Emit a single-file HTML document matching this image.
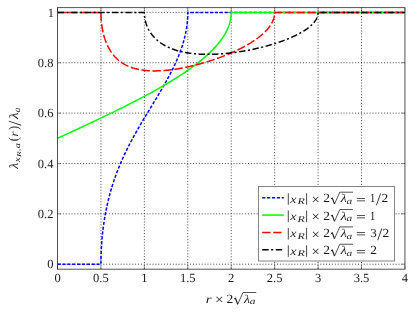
<!DOCTYPE html>
<html><head><meta charset="utf-8"><title>plot</title>
<style>html,body{margin:0;padding:0;background:#fff;}body{width:416px;height:313px;position:relative;overflow:hidden;font-family:"Liberation Serif",serif;}</style>
</head><body>
<svg width="416" height="313" viewBox="0 0 416 313" style="position:absolute;left:0;top:0;will-change:transform" text-rendering="geometricPrecision">
<defs><clipPath id="c"><rect x="57.50" y="7.70" width="347.45" height="261.45"/></clipPath></defs>
<path d="M100.93 269.15 V7.70 M144.36 269.15 V7.70 M187.79 269.15 V7.70 M231.22 269.15 V7.70 M274.66 269.15 V7.70 M318.09 269.15 V7.70 M361.52 269.15 V7.70" fill="none" stroke="#000" stroke-width="0.72" stroke-dasharray="1 1.894" stroke-dashoffset="2.544"/>
<path d="M57.50 264.20 H404.95 M57.50 213.84 H404.95 M57.50 163.48 H404.95 M57.50 113.12 H404.95 M57.50 62.76 H404.95 M57.50 12.40 H404.95" fill="none" stroke="#000" stroke-width="0.72" stroke-dasharray="1 1.894" stroke-dashoffset="0.5"/>
<path d="M57.50 269.15 v-3.5 M57.50 7.70 v3.5 M100.93 269.15 v-3.5 M100.93 7.70 v3.5 M144.36 269.15 v-3.5 M144.36 7.70 v3.5 M187.79 269.15 v-3.5 M187.79 7.70 v3.5 M231.22 269.15 v-3.5 M231.22 7.70 v3.5 M274.66 269.15 v-3.5 M274.66 7.70 v3.5 M318.09 269.15 v-3.5 M318.09 7.70 v3.5 M361.52 269.15 v-3.5 M361.52 7.70 v3.5 M404.95 269.15 v-3.5 M404.95 7.70 v3.5 M57.50 264.20 h3.5 M404.95 264.20 h-3.5 M57.50 213.84 h3.5 M404.95 213.84 h-3.5 M57.50 163.48 h3.5 M404.95 163.48 h-3.5 M57.50 113.12 h3.5 M404.95 113.12 h-3.5 M57.50 62.76 h3.5 M404.95 62.76 h-3.5 M57.50 12.40 h3.5 M404.95 12.40 h-3.5" fill="none" stroke="#333" stroke-width="0.55"/>
<g clip-path="url(#c)" fill="none" stroke-width="1.50" stroke-linejoin="round">
<path d="M57.50 264.20 L63.58 264.20 L69.66 264.20 L75.74 264.20 L81.82 264.20 L87.90 264.20 L93.98 264.20 L100.06 264.20 L100.93 264.20 L100.94 262.46 L100.95 261.26 L100.96 260.38 L100.97 259.24 L100.99 258.54 L101.00 257.75 L101.02 256.85 L101.05 255.82 L101.09 254.65 L101.13 253.31 L101.15 252.88 L101.19 251.79 L101.27 250.05 L101.37 248.08 L101.50 245.83 L101.58 244.63 L101.68 243.27 L101.80 241.62 L101.90 240.36 L102.02 238.98 L102.19 237.06 L102.23 236.60 L102.45 234.42 L102.57 233.30 L102.67 232.40 L102.89 230.50 L103.06 229.05 L103.10 228.71 L103.32 227.02 L103.54 225.40 L103.70 224.23 L103.75 223.85 L103.97 222.37 L104.19 220.94 L104.41 219.56 L104.53 218.79 L104.62 218.23 L104.84 216.94 L105.06 215.69 L105.27 214.47 L105.49 213.29 L105.71 212.14 L105.93 211.01 L106.14 209.92 L106.36 208.84 L106.58 207.80 L106.79 206.77 L107.01 205.75 L107.23 204.78 L107.45 203.81 L107.66 202.86 L107.88 201.93 L108.10 201.02 L108.31 200.12 L108.53 199.23 L108.84 198.01 L108.97 197.51 L109.18 196.66 L109.40 195.83 L109.62 195.01 L109.83 194.21 L110.05 193.41 L110.27 192.62 L110.49 191.85 L110.70 191.08 L110.92 190.33 L111.21 189.33 L111.35 188.85 L111.57 188.12 L111.79 187.40 L112.01 186.69 L112.22 185.99 L112.44 185.29 L112.66 184.60 L112.87 183.92 L113.09 183.25 L113.31 182.58 L113.53 181.92 L113.74 181.27 L113.96 180.62 L114.39 179.35 L114.61 178.72 L114.83 178.10 L115.05 177.48 L115.26 176.87 L115.48 176.26 L115.70 175.66 L115.92 175.06 L116.13 174.47 L116.35 173.88 L116.78 172.72 L117.22 171.58 L117.65 170.46 L118.09 169.35 L118.52 168.26 L118.96 167.18 L119.39 166.12 L119.82 165.07 L120.26 164.03 L120.69 163.01 L121.13 162.00 L121.56 161.00 L122.00 160.01 L122.43 159.04 L122.86 158.07 L123.30 157.12 L123.73 156.17 L124.17 155.23 L124.60 154.31 L125.04 153.39 L125.47 152.48 L125.90 151.58 L126.34 150.68 L126.77 149.80 L127.21 148.92 L127.64 148.05 L128.08 147.18 L128.51 146.32 L128.94 145.47 L129.60 144.21 L130.25 142.95 L130.90 141.71 L131.55 140.49 L132.20 139.27 L132.85 138.06 L133.50 136.87 L134.16 135.68 L134.81 134.51 L135.46 133.34 L136.11 132.18 L136.76 131.03 L137.41 129.89 L138.28 128.37 L139.15 126.87 L140.02 125.38 L140.89 123.90 L141.76 122.42 L142.63 120.96 L143.71 119.14 L144.80 117.32 L146.10 115.16 L147.62 112.65 L149.57 109.43 L152.83 104.08 L154.57 101.22 L155.87 99.06 L156.96 97.26 L158.04 95.45 L159.13 93.62 L160.00 92.16 L160.87 90.68 L161.74 89.20 L162.60 87.70 L163.26 86.57 L163.91 85.44 L164.56 84.29 L165.21 83.14 L165.86 81.98 L166.51 80.80 L167.16 79.62 L167.82 78.43 L168.47 77.22 L169.12 76.00 L169.55 75.18 L169.99 74.35 L170.42 73.52 L170.86 72.68 L171.29 71.83 L171.72 70.97 L172.16 70.11 L172.59 69.23 L173.03 68.35 L173.46 67.46 L173.90 66.55 L174.43 65.43 L174.76 64.71 L175.20 63.78 L175.63 62.83 L176.07 61.86 L176.50 60.88 L176.94 59.89 L177.37 58.88 L177.80 57.85 L178.02 57.33 L178.24 56.80 L178.46 56.27 L178.67 55.73 L178.89 55.19 L179.11 54.64 L179.32 54.09 L179.54 53.53 L179.98 52.39 L180.19 51.81 L180.41 51.22 L180.63 50.63 L180.84 50.02 L181.06 49.41 L181.28 48.79 L181.50 48.16 L181.71 47.52 L181.93 46.87 L182.15 46.21 L182.36 45.53 L182.58 44.85 L182.80 44.15 L183.02 43.43 L183.23 42.71 L183.45 41.96 L183.67 41.20 L183.88 40.41 L184.10 39.61 L184.32 38.79 L184.54 37.93 L184.75 37.06 L184.97 36.15 L185.19 35.20 L185.41 34.22 L185.62 33.20 L185.84 32.12 L186.06 30.98 L186.16 30.44 L186.27 29.77 L186.49 28.48 L186.53 28.21 L186.71 27.07 L186.82 26.26 L186.93 25.51 L187.05 24.55 L187.14 23.75 L187.22 23.05 L187.36 21.66 L187.45 20.59 L187.53 19.58 L187.59 18.70 L187.64 17.92 L187.67 17.24 L187.70 16.65 L187.72 16.12 L187.75 15.26 L187.77 14.33 L187.80 12.40 L193.87 12.40 L199.95 12.40 L206.03 12.40 L212.12 12.40 L218.20 12.40 L224.28 12.40 L230.36 12.40 L236.44 12.40 L242.52 12.40 L248.60 12.40 L254.68 12.40 L260.76 12.40 L266.84 12.40 L272.92 12.40 L279.00 12.40 L285.08 12.40 L291.16 12.40 L297.24 12.40 L303.32 12.40 L309.40 12.40 L315.48 12.40 L321.56 12.40 L327.64 12.40 L333.72 12.40 L339.80 12.40 L345.88 12.40 L351.96 12.40 L358.04 12.40 L364.12 12.40 L370.20 12.40 L376.29 12.40 L382.37 12.40 L388.45 12.40 L394.53 12.40 L400.61 12.40 L404.95 12.40" stroke="#0000ff" stroke-dasharray="3.2 1.67"/>
<path d="M57.50 138.30 L63.15 135.69 L68.79 133.09 L74.44 130.47 L79.87 127.95 L84.64 125.72 L88.99 123.69 L93.11 121.75 L97.02 119.90 L100.71 118.15 L104.19 116.49 L107.45 114.93 L110.70 113.35 L113.74 111.88 L116.78 110.39 L119.61 109.00 L122.43 107.60 L125.04 106.30 L127.64 104.99 L130.25 103.67 L132.64 102.45 L135.02 101.22 L137.41 99.99 L139.59 98.86 L141.76 97.71 L143.93 96.56 L146.10 95.40 L148.05 94.35 L150.01 93.29 L151.96 92.22 L153.92 91.14 L155.87 90.05 L157.61 89.08 L159.35 88.09 L161.08 87.10 L162.82 86.10 L164.56 85.08 L166.30 84.06 L167.82 83.16 L169.34 82.24 L170.86 81.32 L172.38 80.39 L173.90 79.45 L175.42 78.50 L176.72 77.68 L178.02 76.85 L179.32 76.01 L180.63 75.16 L181.93 74.31 L183.23 73.44 L184.54 72.56 L185.84 71.68 L186.93 70.93 L188.01 70.18 L189.10 69.41 L190.18 68.64 L191.27 67.86 L192.35 67.07 L193.44 66.27 L194.53 65.46 L195.61 64.64 L196.70 63.81 L197.57 63.14 L198.43 62.45 L199.30 61.77 L200.17 61.07 L201.04 60.36 L201.91 59.64 L202.78 58.92 L203.65 58.18 L204.51 57.44 L205.38 56.68 L206.25 55.91 L206.90 55.32 L207.55 54.73 L208.21 54.13 L208.86 53.52 L209.51 52.90 L210.16 52.28 L210.81 51.65 L211.46 51.00 L212.12 50.35 L212.77 49.68 L213.42 49.01 L214.07 48.32 L214.72 47.62 L215.37 46.91 L215.81 46.42 L216.24 45.93 L216.68 45.44 L217.11 44.93 L217.54 44.42 L217.98 43.90 L218.41 43.37 L218.85 42.84 L219.28 42.29 L219.72 41.74 L220.15 41.17 L220.58 40.60 L221.02 40.01 L221.45 39.41 L221.89 38.80 L222.32 38.17 L222.76 37.53 L223.19 36.87 L223.62 36.20 L223.84 35.85 L224.06 35.50 L224.28 35.15 L224.49 34.79 L224.71 34.42 L224.93 34.05 L225.14 33.67 L225.36 33.28 L225.58 32.89 L225.80 32.49 L226.01 32.08 L226.23 31.67 L226.55 31.04 L226.88 30.36 L227.10 29.90 L227.32 29.43 L227.63 28.74 L227.75 28.46 L227.97 27.95 L228.18 27.42 L228.46 26.73 L228.62 26.30 L228.84 25.71 L229.10 24.96 L229.27 24.43 L229.49 23.74 L229.59 23.42 L229.70 23.01 L229.92 22.22 L229.96 22.06 L230.14 21.37 L230.26 20.87 L230.36 20.42 L230.48 19.83 L230.57 19.34 L230.65 18.91 L230.79 18.07 L230.89 17.41 L230.96 16.79 L231.02 16.25 L231.07 15.78 L231.11 15.36 L231.13 15.00 L231.17 14.40 L231.20 13.75 L231.23 12.40 L237.31 12.40 L243.39 12.40 L249.47 12.40 L255.55 12.40 L261.63 12.40 L267.71 12.40 L273.79 12.40 L279.87 12.40 L285.95 12.40 L292.03 12.40 L298.11 12.40 L304.19 12.40 L310.27 12.40 L316.35 12.40 L322.43 12.40 L328.51 12.40 L334.59 12.40 L340.67 12.40 L346.75 12.40 L352.83 12.40 L358.91 12.40 L364.99 12.40 L371.07 12.40 L377.15 12.40 L383.23 12.40 L389.31 12.40 L395.40 12.40 L401.48 12.40 L404.95 12.40" stroke="#00ff00"/>
<path d="M57.50 12.40 L63.58 12.40 L69.66 12.40 L75.74 12.40 L81.82 12.40 L87.90 12.40 L93.98 12.40 L100.06 12.40 L100.93 12.40 L100.94 13.54 L100.95 14.33 L100.97 15.26 L101.00 16.12 L101.02 16.64 L101.05 17.23 L101.09 17.91 L101.13 18.68 L101.19 19.55 L101.27 20.55 L101.37 21.67 L101.50 22.96 L101.58 23.64 L101.68 24.41 L101.80 25.34 L101.90 26.05 L102.02 26.83 L102.19 27.91 L102.23 28.16 L102.45 29.38 L102.57 30.00 L102.67 30.50 L102.89 31.54 L103.10 32.52 L103.32 33.45 L103.54 34.32 L103.75 35.15 L103.97 35.95 L104.19 36.71 L104.41 37.44 L104.62 38.14 L104.84 38.81 L105.06 39.46 L105.27 40.09 L105.49 40.70 L105.71 41.29 L105.93 41.86 L106.14 42.41 L106.36 42.95 L106.58 43.47 L106.79 43.98 L107.01 44.48 L107.23 44.96 L107.45 45.43 L107.66 45.88 L107.88 46.33 L108.10 46.77 L108.31 47.19 L108.53 47.61 L108.84 48.18 L109.18 48.80 L109.40 49.19 L109.62 49.56 L109.83 49.92 L110.05 50.28 L110.27 50.63 L110.49 50.98 L110.70 51.31 L110.92 51.64 L111.21 52.08 L111.57 52.60 L111.79 52.90 L112.01 53.21 L112.22 53.50 L112.44 53.79 L112.66 54.08 L112.87 54.36 L113.09 54.63 L113.31 54.90 L113.74 55.43 L114.18 55.94 L114.61 56.43 L115.05 56.90 L115.48 57.36 L115.92 57.81 L116.35 58.24 L116.78 58.66 L117.22 59.07 L117.65 59.46 L118.09 59.84 L118.52 60.21 L118.96 60.57 L119.39 60.92 L119.82 61.26 L120.26 61.59 L120.69 61.91 L121.13 62.22 L121.56 62.52 L122.00 62.81 L122.43 63.09 L122.86 63.37 L123.30 63.63 L123.73 63.89 L124.17 64.15 L124.60 64.39 L125.04 64.63 L125.47 64.86 L125.90 65.09 L126.34 65.31 L126.99 65.62 L127.64 65.93 L128.29 66.22 L128.94 66.50 L129.60 66.76 L130.25 67.02 L130.90 67.26 L131.55 67.49 L132.20 67.71 L132.85 67.93 L133.50 68.13 L134.16 68.32 L134.81 68.51 L135.46 68.68 L136.11 68.85 L136.76 69.01 L137.41 69.16 L138.06 69.30 L138.72 69.44 L139.37 69.57 L140.02 69.69 L140.89 69.84 L141.76 69.98 L142.63 70.10 L143.49 70.22 L144.36 70.33 L145.23 70.42 L146.10 70.51 L146.97 70.59 L147.84 70.65 L148.71 70.71 L149.57 70.76 L150.44 70.80 L151.31 70.83 L152.18 70.86 L153.05 70.88 L153.92 70.89 L155.00 70.89 L156.09 70.88 L157.17 70.86 L158.26 70.83 L159.35 70.79 L160.43 70.74 L161.52 70.68 L162.60 70.61 L163.69 70.53 L164.78 70.44 L165.86 70.35 L166.95 70.24 L168.03 70.13 L169.12 70.01 L170.42 69.86 L171.72 69.70 L173.03 69.52 L174.33 69.34 L175.63 69.14 L176.94 68.94 L178.24 68.72 L179.54 68.50 L180.84 68.27 L182.15 68.02 L183.45 67.77 L184.75 67.51 L186.06 67.25 L187.36 66.97 L188.66 66.69 L189.97 66.39 L191.27 66.09 L192.57 65.78 L193.87 65.46 L195.18 65.14 L196.70 64.75 L198.22 64.35 L199.74 63.94 L201.26 63.52 L202.78 63.08 L204.30 62.64 L205.82 62.19 L207.12 61.79 L208.42 61.39 L209.73 60.97 L211.03 60.55 L212.33 60.12 L213.64 59.68 L214.94 59.24 L216.24 58.78 L217.54 58.32 L218.85 57.85 L220.15 57.37 L221.45 56.88 L222.76 56.38 L224.06 55.87 L225.36 55.36 L226.66 54.83 L227.97 54.29 L229.27 53.75 L230.57 53.19 L231.66 52.71 L232.75 52.23 L233.83 51.74 L234.92 51.25 L236.00 50.74 L237.09 50.22 L238.17 49.70 L239.26 49.17 L240.35 48.62 L241.43 48.07 L242.52 47.50 L243.39 47.04 L244.25 46.58 L245.12 46.10 L245.99 45.62 L246.86 45.13 L247.73 44.62 L248.60 44.12 L249.47 43.60 L250.33 43.07 L251.20 42.53 L252.07 41.98 L252.94 41.42 L253.59 40.99 L254.24 40.55 L254.90 40.10 L255.55 39.65 L256.20 39.19 L256.85 38.72 L257.50 38.24 L258.15 37.76 L258.80 37.26 L259.46 36.75 L260.11 36.23 L260.76 35.69 L261.41 35.15 L261.84 34.78 L262.28 34.40 L262.71 34.01 L263.15 33.62 L263.58 33.22 L264.02 32.81 L264.45 32.39 L264.88 31.97 L265.32 31.53 L265.75 31.08 L266.19 30.62 L266.62 30.15 L267.06 29.67 L267.49 29.17 L267.92 28.66 L268.36 28.13 L268.58 27.85 L268.79 27.58 L269.01 27.29 L269.23 27.01 L269.44 26.71 L269.66 26.41 L269.98 25.96 L270.31 25.47 L270.53 25.14 L270.75 24.80 L271.06 24.30 L271.18 24.09 L271.40 23.72 L271.62 23.34 L271.89 22.84 L272.05 22.53 L272.27 22.10 L272.53 21.56 L272.70 21.17 L272.92 20.67 L273.14 20.14 L273.35 19.57 L273.57 18.94 L273.69 18.58 L273.79 18.25 L273.91 17.82 L274.00 17.47 L274.08 17.16 L274.22 16.54 L274.32 16.06 L274.40 15.61 L274.46 15.21 L274.50 14.87 L274.54 14.56 L274.59 14.07 L274.62 13.52 L274.66 12.40 L280.74 12.40 L286.82 12.40 L292.90 12.40 L298.98 12.40 L305.06 12.40 L311.14 12.40 L317.22 12.40 L323.30 12.40 L329.38 12.40 L335.46 12.40 L341.54 12.40 L347.62 12.40 L353.70 12.40 L359.78 12.40 L365.86 12.40 L371.94 12.40 L378.02 12.40 L384.10 12.40 L390.18 12.40 L396.26 12.40 L402.34 12.40 L404.95 12.40" stroke="#ff0000" stroke-dasharray="8.42 2.6"/>
<path d="M57.50 12.40 L63.58 12.40 L69.66 12.40 L75.74 12.40 L81.82 12.40 L87.90 12.40 L93.98 12.40 L100.06 12.40 L106.14 12.40 L112.22 12.40 L118.30 12.40 L124.38 12.40 L130.46 12.40 L136.54 12.40 L142.63 12.40 L144.36 12.40 L144.37 13.20 L144.39 13.75 L144.42 14.40 L144.45 15.00 L144.48 15.36 L144.52 15.78 L144.58 16.40 L144.62 16.78 L144.70 17.40 L144.80 18.09 L144.94 18.88 L145.01 19.30 L145.11 19.78 L145.23 20.36 L145.33 20.80 L145.45 21.28 L145.62 21.96 L145.67 22.11 L145.88 22.87 L146.00 23.26 L146.10 23.58 L146.32 24.23 L146.53 24.85 L146.75 25.44 L146.97 25.99 L147.19 26.52 L147.40 27.03 L147.62 27.52 L147.84 27.99 L148.05 28.44 L148.27 28.87 L148.49 29.30 L148.71 29.70 L148.92 30.10 L149.14 30.49 L149.36 30.86 L149.57 31.22 L149.79 31.58 L150.01 31.92 L150.23 32.26 L150.45 32.60 L150.66 32.91 L150.88 33.23 L151.09 33.54 L151.31 33.84 L151.53 34.13 L151.75 34.42 L151.96 34.70 L152.40 35.25 L152.61 35.52 L152.83 35.78 L153.05 36.04 L153.48 36.54 L153.92 37.02 L154.35 37.49 L154.79 37.94 L155.22 38.38 L155.65 38.81 L156.09 39.22 L156.52 39.62 L156.96 40.01 L157.39 40.38 L157.83 40.75 L158.26 41.10 L158.69 41.45 L159.13 41.79 L159.56 42.12 L160.00 42.44 L160.43 42.75 L160.87 43.05 L161.30 43.35 L161.74 43.64 L162.17 43.92 L162.60 44.20 L163.04 44.47 L163.47 44.73 L164.12 45.11 L164.78 45.48 L165.43 45.83 L166.08 46.18 L166.73 46.51 L167.38 46.83 L168.03 47.14 L168.68 47.44 L169.34 47.73 L169.99 48.01 L170.64 48.28 L171.29 48.55 L171.94 48.80 L172.59 49.05 L173.24 49.28 L173.90 49.51 L174.55 49.73 L175.20 49.95 L175.85 50.16 L176.72 50.42 L177.59 50.68 L178.46 50.92 L179.32 51.15 L180.19 51.37 L181.06 51.58 L181.93 51.78 L182.80 51.98 L183.67 52.16 L184.54 52.33 L185.41 52.50 L186.27 52.65 L187.14 52.80 L188.01 52.94 L188.88 53.07 L189.75 53.20 L190.83 53.34 L191.92 53.48 L193.01 53.60 L194.09 53.71 L195.18 53.82 L196.26 53.91 L197.35 53.99 L198.43 54.07 L199.52 54.14 L200.61 54.19 L201.69 54.24 L202.78 54.28 L203.86 54.31 L204.95 54.34 L206.25 54.36 L207.55 54.37 L208.86 54.36 L210.16 54.35 L211.46 54.33 L212.77 54.30 L214.07 54.26 L215.37 54.21 L216.68 54.15 L217.98 54.08 L219.28 54.00 L220.58 53.91 L221.89 53.82 L223.19 53.72 L224.49 53.60 L225.80 53.49 L227.32 53.34 L228.84 53.18 L230.36 53.01 L231.88 52.83 L233.40 52.64 L234.92 52.44 L236.44 52.22 L237.96 52.00 L239.48 51.77 L241.00 51.53 L242.52 51.28 L244.04 51.02 L245.56 50.75 L247.08 50.48 L248.60 50.19 L250.12 49.89 L251.64 49.58 L253.16 49.26 L254.68 48.93 L256.20 48.60 L257.72 48.25 L259.24 47.89 L260.76 47.52 L262.28 47.14 L263.58 46.81 L264.88 46.47 L266.19 46.12 L267.49 45.76 L268.79 45.40 L270.10 45.02 L271.40 44.64 L272.70 44.25 L274.00 43.84 L275.31 43.43 L276.61 43.01 L277.91 42.58 L279.22 42.14 L280.30 41.76 L281.39 41.38 L282.47 40.98 L283.56 40.58 L284.65 40.17 L285.73 39.76 L286.82 39.33 L287.90 38.89 L288.99 38.44 L290.07 37.98 L290.94 37.61 L291.81 37.23 L292.68 36.84 L293.55 36.44 L294.42 36.03 L295.29 35.61 L296.15 35.19 L297.02 34.75 L297.89 34.31 L298.76 33.85 L299.41 33.50 L300.06 33.14 L300.71 32.78 L301.37 32.40 L302.02 32.02 L302.67 31.63 L303.32 31.23 L303.97 30.83 L304.84 30.26 L305.49 29.83 L306.14 29.38 L306.58 29.08 L307.01 28.77 L307.45 28.45 L307.88 28.12 L308.32 27.79 L308.75 27.45 L309.18 27.10 L309.62 26.75 L310.27 26.19 L310.70 25.81 L311.14 25.41 L311.57 25.00 L312.01 24.58 L312.44 24.14 L312.66 23.92 L312.88 23.69 L313.09 23.45 L313.53 22.96 L313.74 22.71 L313.96 22.45 L314.18 22.19 L314.49 21.79 L314.83 21.34 L315.05 21.04 L315.32 20.64 L315.48 20.40 L315.70 20.06 L315.96 19.63 L316.13 19.33 L316.35 18.94 L316.57 18.51 L316.83 17.97 L317.00 17.57 L317.12 17.28 L317.22 17.02 L317.34 16.68 L317.44 16.41 L317.51 16.16 L317.65 15.67 L317.75 15.29 L317.83 14.94 L317.89 14.62 L317.93 14.35 L318.00 13.90 L318.05 13.41 L318.09 12.40 L324.17 12.40 L330.25 12.40 L336.33 12.40 L342.41 12.40 L348.49 12.40 L354.57 12.40 L360.65 12.40 L366.73 12.40 L372.81 12.40 L378.89 12.40 L384.97 12.40 L391.05 12.40 L397.13 12.40 L403.21 12.40 L404.95 12.40" stroke="#000000" stroke-dasharray="6.4 2.55 2.07 2.55"/>
</g>
<rect x="57.50" y="7.70" width="347.45" height="261.45" fill="none" stroke="#1a1a1a" stroke-width="0.75"/>
<g style="font-family:&quot;Liberation Serif&quot;,serif" font-size="12.5" fill="#1a1a1a">
<text x="57.50" y="281.8" text-anchor="middle">0</text>
<text x="100.93" y="281.8" text-anchor="middle">0.5</text>
<text x="144.36" y="281.8" text-anchor="middle">1</text>
<text x="187.79" y="281.8" text-anchor="middle">1.5</text>
<text x="231.22" y="281.8" text-anchor="middle">2</text>
<text x="274.66" y="281.8" text-anchor="middle">2.5</text>
<text x="318.09" y="281.8" text-anchor="middle">3</text>
<text x="361.52" y="281.8" text-anchor="middle">3.5</text>
<text x="404.95" y="281.8" text-anchor="middle">4</text>
<text x="53.40" y="268.40" text-anchor="end">0</text>
<text x="53.40" y="218.04" text-anchor="end">0.2</text>
<text x="53.40" y="167.68" text-anchor="end">0.4</text>
<text x="53.40" y="117.32" text-anchor="end">0.6</text>
<text x="53.40" y="66.96" text-anchor="end">0.8</text>
<text x="54.00" y="16.60" text-anchor="end">1</text>
</g>
<rect x="258.40" y="186.55" width="136.10" height="74.45" fill="#fff" stroke="#666" stroke-width="0.8"/>
<g style="font-family:&quot;Liberation Serif&quot;,serif" fill="#1a1a1a">
<path d="M262.2 197.75 H283.8" fill="none" stroke="#0000ff" stroke-width="1.50" stroke-dasharray="3.2 1.67"/>
<path d="M288.3 193.20 v11.6 M306.6 193.20 v11.6" stroke="#1a1a1a" stroke-width="0.8" fill="none"/>
<text transform="matrix(1.4000 0 0 1.1522 290.175 202.500)" font-size="10" font-style="italic">x</text>
<text transform="matrix(1.2000 0 0 0.8855 297.560 204.300)" font-size="10" font-style="italic">R</text>
<text transform="matrix(1.4815 0 0 1.3827 311.615 204.098)" font-size="10">×</text>
<text transform="matrix(1.3500 0 0 1.2528 323.192 202.200)" font-size="10">2</text>
<path d="M331.10 198.70 l1.2 -0.7 l2.2 6.0" fill="none" stroke="#1a1a1a" stroke-width="1.1" stroke-linejoin="miter"/><path d="M334.50 204.00 l5.3 -11.8 H353.00" fill="none" stroke="#1a1a1a" stroke-width="0.75" stroke-linejoin="miter"/>
<text transform="matrix(1.3873 0 0 1.1773 340.847 202.200)" font-size="10" font-style="italic">λ</text>
<text transform="matrix(1.1329 0 0 0.8958 346.560 203.810)" font-size="10" font-style="italic">a</text>
<text transform="matrix(1.7419 0 0 1.3200 355.929 203.539)" font-size="10">=</text>
<text transform="matrix(1.1348 0 0 1.2424 369.807 202.200)" font-size="10">1</text>
<text transform="matrix(1.8018 0 0 1.7313 376.000 205.027)" font-size="10">/</text>
<text transform="matrix(1.3500 0 0 1.2377 381.392 202.200)" font-size="10">2</text>
<path d="M262.2 215.10 H283.8" fill="none" stroke="#00ff00" stroke-width="1.50"/>
<path d="M288.3 210.55 v11.6 M306.6 210.55 v11.6" stroke="#1a1a1a" stroke-width="0.8" fill="none"/>
<text transform="matrix(1.4000 0 0 1.1522 290.175 219.850)" font-size="10" font-style="italic">x</text>
<text transform="matrix(1.2000 0 0 0.8855 297.560 221.650)" font-size="10" font-style="italic">R</text>
<text transform="matrix(1.4815 0 0 1.3827 311.615 221.448)" font-size="10">×</text>
<text transform="matrix(1.3500 0 0 1.2528 323.192 219.550)" font-size="10">2</text>
<path d="M331.10 216.05 l1.2 -0.7 l2.2 6.0" fill="none" stroke="#1a1a1a" stroke-width="1.1" stroke-linejoin="miter"/><path d="M334.50 221.35 l5.3 -11.8 H353.00" fill="none" stroke="#1a1a1a" stroke-width="0.75" stroke-linejoin="miter"/>
<text transform="matrix(1.3873 0 0 1.1773 340.847 219.550)" font-size="10" font-style="italic">λ</text>
<text transform="matrix(1.1329 0 0 0.8958 346.560 221.160)" font-size="10" font-style="italic">a</text>
<text transform="matrix(1.7419 0 0 1.3200 355.929 220.889)" font-size="10">=</text>
<text transform="matrix(1.1348 0 0 1.2424 369.807 219.550)" font-size="10">1</text>
<path d="M262.2 232.45 H283.8" fill="none" stroke="#ff0000" stroke-width="1.50" stroke-dasharray="8.42 2.6"/>
<path d="M288.3 227.90 v11.6 M306.6 227.90 v11.6" stroke="#1a1a1a" stroke-width="0.8" fill="none"/>
<text transform="matrix(1.4000 0 0 1.1522 290.175 237.200)" font-size="10" font-style="italic">x</text>
<text transform="matrix(1.2000 0 0 0.8855 297.560 239.000)" font-size="10" font-style="italic">R</text>
<text transform="matrix(1.4815 0 0 1.3827 311.615 238.798)" font-size="10">×</text>
<text transform="matrix(1.3500 0 0 1.2528 323.192 236.900)" font-size="10">2</text>
<path d="M331.10 233.40 l1.2 -0.7 l2.2 6.0" fill="none" stroke="#1a1a1a" stroke-width="1.1" stroke-linejoin="miter"/><path d="M334.50 238.70 l5.3 -11.8 H353.00" fill="none" stroke="#1a1a1a" stroke-width="0.75" stroke-linejoin="miter"/>
<text transform="matrix(1.3873 0 0 1.1773 340.847 236.900)" font-size="10" font-style="italic">λ</text>
<text transform="matrix(1.1329 0 0 0.8958 346.560 238.510)" font-size="10" font-style="italic">a</text>
<text transform="matrix(1.7419 0 0 1.3200 355.929 238.239)" font-size="10">=</text>
<text transform="matrix(1.3091 0 0 1.2193 370.178 236.778)" font-size="10">3</text>
<text transform="matrix(1.8018 0 0 1.7313 377.200 239.727)" font-size="10">/</text>
<text transform="matrix(1.3500 0 0 1.2377 382.592 236.900)" font-size="10">2</text>
<path d="M262.2 249.80 H283.8" fill="none" stroke="#000000" stroke-width="1.50" stroke-dasharray="6.4 2.55 2.07 2.55"/>
<path d="M288.3 245.25 v11.6 M306.6 245.25 v11.6" stroke="#1a1a1a" stroke-width="0.8" fill="none"/>
<text transform="matrix(1.4000 0 0 1.1522 290.175 254.550)" font-size="10" font-style="italic">x</text>
<text transform="matrix(1.2000 0 0 0.8855 297.560 256.350)" font-size="10" font-style="italic">R</text>
<text transform="matrix(1.4815 0 0 1.3827 311.615 256.148)" font-size="10">×</text>
<text transform="matrix(1.3500 0 0 1.2528 323.192 254.250)" font-size="10">2</text>
<path d="M331.10 250.75 l1.2 -0.7 l2.2 6.0" fill="none" stroke="#1a1a1a" stroke-width="1.1" stroke-linejoin="miter"/><path d="M334.50 256.05 l5.3 -11.8 H353.00" fill="none" stroke="#1a1a1a" stroke-width="0.75" stroke-linejoin="miter"/>
<text transform="matrix(1.3873 0 0 1.1773 340.847 254.250)" font-size="10" font-style="italic">λ</text>
<text transform="matrix(1.1329 0 0 0.8958 346.560 255.860)" font-size="10" font-style="italic">a</text>
<text transform="matrix(1.7419 0 0 1.3200 355.929 255.589)" font-size="10">=</text>
<text transform="matrix(1.3500 0 0 1.2377 370.192 254.250)" font-size="10">2</text>
</g>
<g style="font-family:&quot;Liberation Serif&quot;,serif" fill="#1a1a1a">
<text transform="matrix(1.5035 0 0 1.1702 205.699 302.500)" font-size="10" font-style="italic">r</text>
<text transform="matrix(1.5309 0 0 1.3827 214.975 304.298)" font-size="10">×</text>
<text transform="matrix(1.3500 0 0 1.2528 226.393 302.500)" font-size="10">2</text>
<path d="M234.30 299.00 l1.2 -0.7 l2.2 6.0" fill="none" stroke="#1a1a1a" stroke-width="1.1" stroke-linejoin="miter"/><path d="M237.70 304.30 l5.3 -11.8 H256.20" fill="none" stroke="#1a1a1a" stroke-width="0.75" stroke-linejoin="miter"/>
<text transform="matrix(1.3873 0 0 1.1773 244.047 302.500)" font-size="10" font-style="italic">λ</text>
<text transform="matrix(1.1329 0 0 0.8958 249.760 304.110)" font-size="10" font-style="italic">a</text>
</g>
<g transform="translate(17.9 169.2) rotate(-90)" style="font-family:&quot;Liberation Serif&quot;,serif" fill="#1a1a1a">
<text transform="matrix(1.4104 0 0 1.2482 0.453 0.000)" font-size="10" font-style="italic">λ</text>
<text transform="matrix(1.1111 0 0 0.8478 6.939 1.900)" font-size="10" font-style="italic">x</text>
<text transform="matrix(0.9667 0 0 0.6107 12.248 3.500)" font-size="10" font-style="italic">R</text>
<text transform="matrix(0.6667 0 0 0.8932 18.550 1.916)" font-size="10">,</text>
<text transform="matrix(1.0405 0 0 0.7917 20.988 1.821)" font-size="10" font-style="italic">a</text>
<text transform="matrix(1.2549 0 0 1.3774 28.035 0.173)" font-size="10">(</text>
<text transform="matrix(1.3050 0 0 1.1702 32.778 0.000)" font-size="10" font-style="italic">r</text>
<text transform="matrix(1.2427 0 0 1.3774 39.296 0.173)" font-size="10">)</text>
<text transform="matrix(1.8378 0 0 1.8657 43.400 2.913)" font-size="10">/</text>
<text transform="matrix(1.5029 0 0 1.2482 50.076 0.000)" font-size="10" font-style="italic">λ</text>
<text transform="matrix(0.9942 0 0 0.8958 56.702 1.610)" font-size="10" font-style="italic">a</text>
</g>
</svg>
</body></html>
